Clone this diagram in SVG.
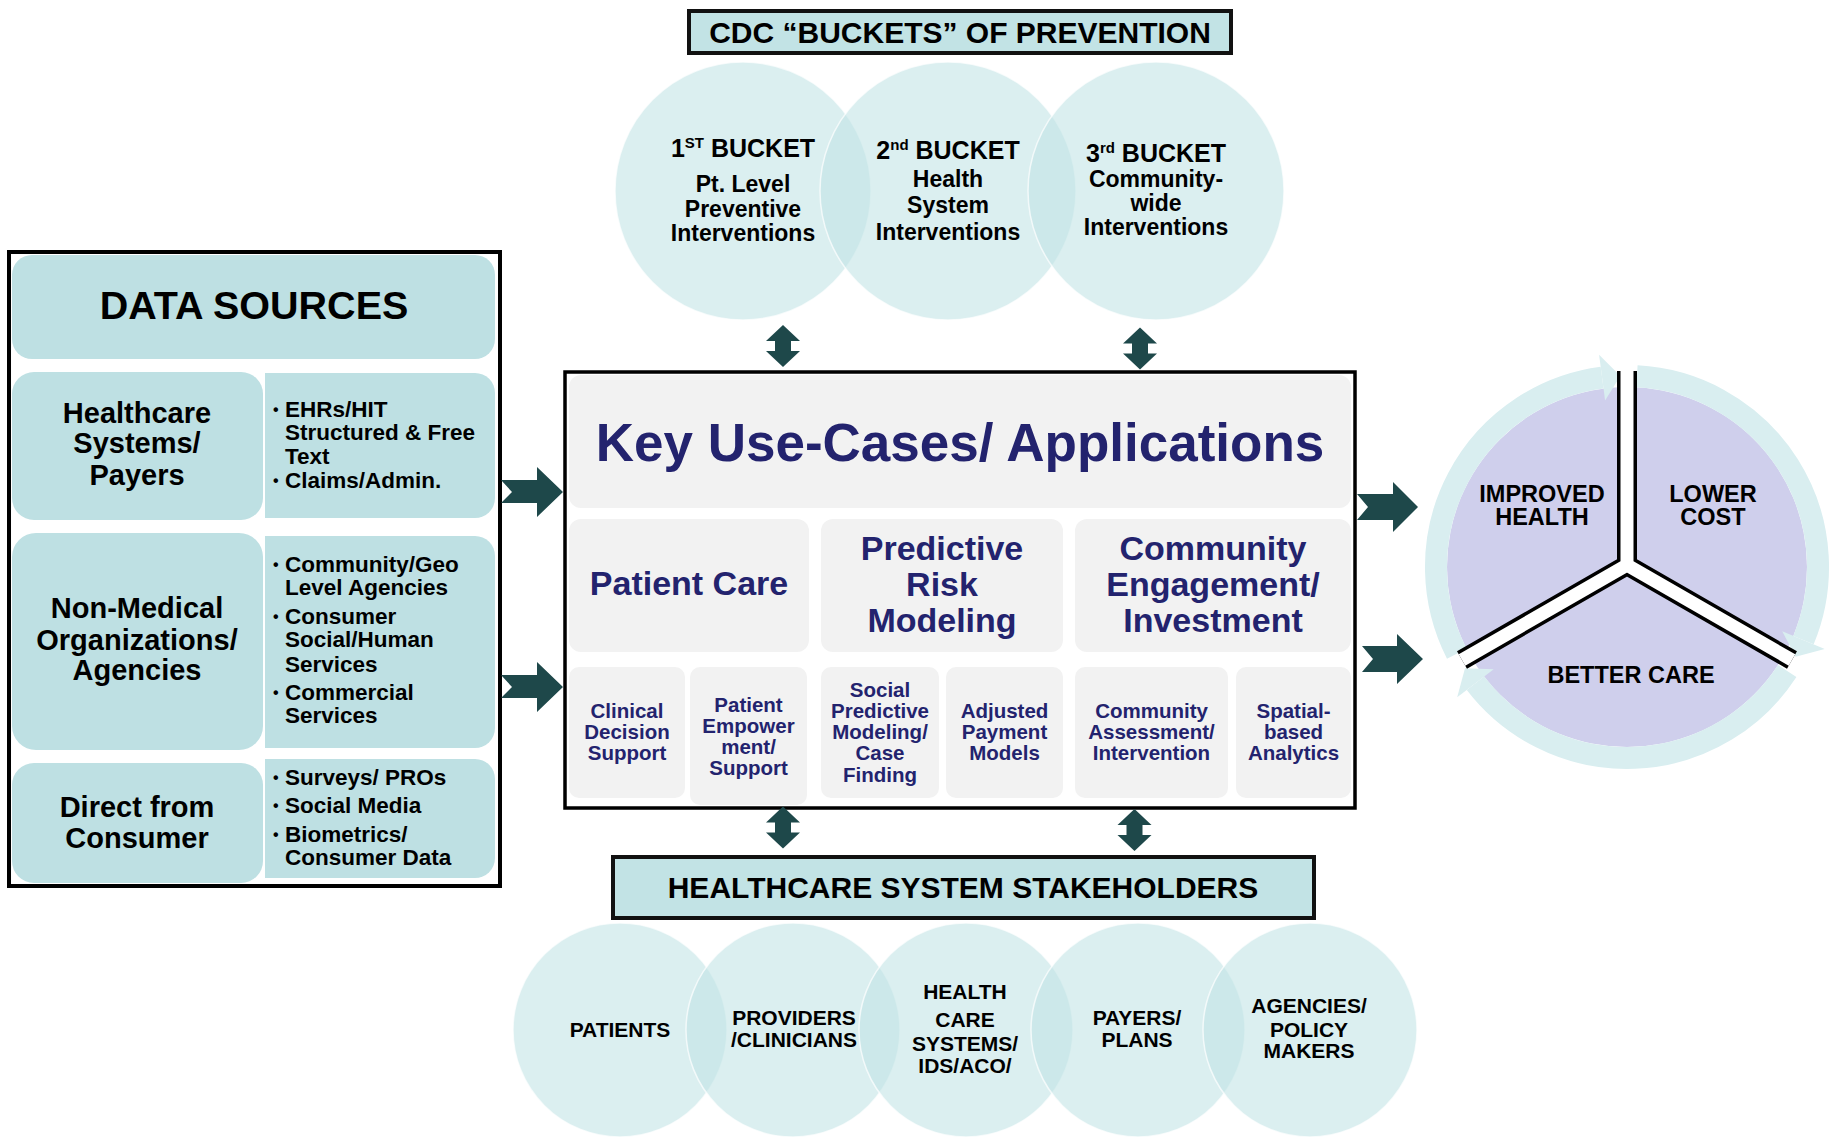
<svg xmlns="http://www.w3.org/2000/svg" width="1831" height="1139" viewBox="0 0 1831 1139">
<style>
text{font-family:"Liberation Sans",Arial,sans-serif;font-weight:bold}
.blk{fill:#000}
.nv{fill:#23236e}
.mid{text-anchor:middle}
.teal{fill:#bee0e3}
.grey{fill:#f2f2f2}
.bub{fill:#c1e3e5;fill-opacity:0.58;stroke:#ffffff;stroke-width:1.5;stroke-opacity:0.7}
.hdr{fill:#c2e3e5;stroke:#111;stroke-width:4}
.arr{fill:#1e484a}
.ring{fill:none;stroke:#d9eef0;stroke-width:22}
.rhead{fill:#d9eef0}
</style>
<rect width="1831" height="1139" fill="#ffffff"/>

<!-- DATA SOURCES -->
<g id="data-sources">
<rect x="9" y="252" width="491" height="634" fill="#ffffff" stroke="#000" stroke-width="4"/>
<rect x="12" y="255" width="483" height="104" rx="20" class="teal"/>
<text x="254" y="319" class="blk mid" font-size="39.5">DATA SOURCES</text>
</g>
<g id="ds-healthcare">
<rect x="12" y="372" width="251" height="148" rx="22" class="teal"/>
<path d="M265,373 H475 A20,20 0 0 1 495,393 V498 A20,20 0 0 1 475,518 H265 Z" class="teal"/>
<text class="blk mid" font-size="29"><tspan x="137" y="423">Healthcare</tspan><tspan x="137" y="453">Systems/</tspan><tspan x="137" y="485">Payers</tspan></text>
<text class="blk" font-size="22.5"><tspan x="285" y="417">EHRs/HIT</tspan><tspan x="285" y="440">Structured &amp; Free</tspan><tspan x="285" y="464">Text</tspan><tspan x="285" y="488">Claims/Admin.</tspan></text>
<text class="blk" font-size="16"><tspan x="273" y="415">•</tspan><tspan x="273" y="486">•</tspan></text>
</g>
<g id="ds-nonmedical">
<rect x="12" y="533" width="251" height="217" rx="24" class="teal"/>
<path d="M265,536 H475 A20,20 0 0 1 495,556 V728 A20,20 0 0 1 475,748 H265 Z" class="teal"/>
<text class="blk mid" font-size="29"><tspan x="137" y="618">Non-Medical</tspan><tspan x="137" y="650">Organizations/</tspan><tspan x="137" y="680">Agencies</tspan></text>
<text class="blk" font-size="22.5"><tspan x="285" y="572">Community/Geo</tspan><tspan x="285" y="595">Level Agencies</tspan><tspan x="285" y="624">Consumer</tspan><tspan x="285" y="647">Social/Human</tspan><tspan x="285" y="672">Services</tspan><tspan x="285" y="700">Commercial</tspan><tspan x="285" y="723">Services</tspan></text>
<text class="blk" font-size="16"><tspan x="273" y="570">•</tspan><tspan x="273" y="622">•</tspan><tspan x="273" y="698">•</tspan></text>
</g>
<g id="ds-consumer">
<rect x="12" y="763" width="251" height="120" rx="22" class="teal"/>
<path d="M265,759 H475 A20,20 0 0 1 495,779 V858 A20,20 0 0 1 475,878 H265 Z" class="teal"/>
<text class="blk mid" font-size="29"><tspan x="137" y="817">Direct from</tspan><tspan x="137" y="848">Consumer</tspan></text>
<text class="blk" font-size="22.5"><tspan x="285" y="785">Surveys/ PROs</tspan><tspan x="285" y="813">Social Media</tspan><tspan x="285" y="842">Biometrics/</tspan><tspan x="285" y="865">Consumer Data</tspan></text>
<text class="blk" font-size="16"><tspan x="273" y="783">•</tspan><tspan x="273" y="811">•</tspan><tspan x="273" y="840">•</tspan></text>
</g>

<!-- CDC BUCKETS -->
<g id="cdc-header">
<rect x="689" y="11" width="542" height="42" class="hdr"/>
<text x="960" y="43" class="blk mid" font-size="30">CDC “BUCKETS” OF PREVENTION</text>
</g>
<g id="bucket-1">
<ellipse cx="743" cy="191" rx="128" ry="129" class="bub"/>
</g>
<g id="bucket-2">
<ellipse cx="948" cy="191" rx="128" ry="129" class="bub"/>
</g>
<g id="bucket-3">
<ellipse cx="1156" cy="191" rx="128" ry="129" class="bub"/>
</g>
<g id="bucket-texts">
<text x="743" y="157" class="blk mid" font-size="25">1<tspan font-size="15" dy="-9">ST</tspan><tspan dy="9"> BUCKET</tspan></text>
<text class="blk mid" font-size="23"><tspan x="743" y="192">Pt. Level</tspan><tspan x="743" y="217">Preventive</tspan><tspan x="743" y="241">Interventions</tspan></text>
<text x="948" y="159" class="blk mid" font-size="25">2<tspan font-size="15" dy="-9">nd</tspan><tspan dy="9"> BUCKET</tspan></text>
<text class="blk mid" font-size="23"><tspan x="948" y="187">Health</tspan><tspan x="948" y="213">System</tspan><tspan x="948" y="240">Interventions</tspan></text>
<text x="1156" y="162" class="blk mid" font-size="25">3<tspan font-size="15" dy="-9">rd</tspan><tspan dy="9"> BUCKET</tspan></text>
<text class="blk mid" font-size="23"><tspan x="1156" y="187">Community-</tspan><tspan x="1156" y="211">wide</tspan><tspan x="1156" y="235">Interventions</tspan></text>
</g>

<!-- KEY USE CASES -->
<g id="key-use-cases">
<rect x="565" y="372" width="790" height="436" fill="#ffffff" stroke="#000" stroke-width="3.5"/>
<rect x="569" y="375" width="782" height="133" rx="12" class="grey"/>
<text x="960" y="461" class="nv mid" font-size="53">Key Use-Cases/ Applications</text>
</g>
<g id="patient-care">
<rect x="569" y="519" width="240" height="133" rx="12" class="grey"/>
<text x="689" y="595" class="nv mid" font-size="34">Patient Care</text>
</g>
<g id="predictive-risk">
<rect x="821" y="519" width="242" height="133" rx="12" class="grey"/>
<text class="nv mid" font-size="34"><tspan x="942" y="560">Predictive</tspan><tspan x="942" y="596">Risk</tspan><tspan x="942" y="632">Modeling</tspan></text>
</g>
<g id="community-engagement">
<rect x="1075" y="519" width="276" height="133" rx="12" class="grey"/>
<text class="nv mid" font-size="34"><tspan x="1213" y="560">Community</tspan><tspan x="1213" y="596">Engagement/</tspan><tspan x="1213" y="632">Investment</tspan></text>
</g>
<g id="clinical-decision">
<rect x="569" y="667" width="116" height="131" rx="10" class="grey"/>
<text class="nv mid" font-size="20.5"><tspan x="627" y="718">Clinical</tspan><tspan x="627" y="739">Decision</tspan><tspan x="627" y="760">Support</tspan></text>
</g>
<g id="patient-empowerment">
<rect x="690" y="667" width="117" height="138" rx="10" class="grey"/>
<text class="nv mid" font-size="20.5"><tspan x="748.5" y="712">Patient</tspan><tspan x="748.5" y="733">Empower</tspan><tspan x="748.5" y="754">ment/</tspan><tspan x="748.5" y="775">Support</tspan></text>
</g>
<g id="social-predictive">
<rect x="821" y="667" width="118" height="131" rx="10" class="grey"/>
<text class="nv mid" font-size="20.5"><tspan x="880" y="697">Social</tspan><tspan x="880" y="718">Predictive</tspan><tspan x="880" y="739">Modeling/</tspan><tspan x="880" y="760">Case</tspan><tspan x="880" y="782">Finding</tspan></text>
</g>
<g id="adjusted-payment">
<rect x="946" y="667" width="117" height="131" rx="10" class="grey"/>
<text class="nv mid" font-size="20.5"><tspan x="1004.5" y="718">Adjusted</tspan><tspan x="1004.5" y="739">Payment</tspan><tspan x="1004.5" y="760">Models</tspan></text>
</g>
<g id="community-assessment">
<rect x="1075" y="667" width="153" height="131" rx="10" class="grey"/>
<text class="nv mid" font-size="20.5"><tspan x="1151.5" y="718">Community</tspan><tspan x="1151.5" y="739">Assessment/</tspan><tspan x="1151.5" y="760">Intervention</tspan></text>
</g>
<g id="spatial-analytics">
<rect x="1236" y="667" width="115" height="131" rx="10" class="grey"/>
<text class="nv mid" font-size="20.5"><tspan x="1293.5" y="718">Spatial-</tspan><tspan x="1293.5" y="739">based</tspan><tspan x="1293.5" y="760">Analytics</tspan></text>
</g>

<!-- STAKEHOLDERS -->
<g id="stakeholders-header">
<rect x="613" y="857" width="701" height="61" class="hdr"/>
<text x="963" y="898" class="blk mid" font-size="30">HEALTHCARE SYSTEM STAKEHOLDERS</text>
</g>
<g id="sh-patients"><ellipse cx="620" cy="1030" rx="107" ry="107" class="bub"/></g>
<g id="sh-providers"><ellipse cx="793" cy="1030" rx="107" ry="107" class="bub"/></g>
<g id="sh-systems"><ellipse cx="966" cy="1030" rx="107" ry="107" class="bub"/></g>
<g id="sh-payers"><ellipse cx="1138" cy="1030" rx="107" ry="107" class="bub"/></g>
<g id="sh-agencies"><ellipse cx="1310" cy="1030" rx="107" ry="107" class="bub"/></g>
<g id="stakeholder-texts">
<text x="620" y="1037" class="blk mid" font-size="21">PATIENTS</text>
<text class="blk mid" font-size="21"><tspan x="794" y="1025">PROVIDERS</tspan><tspan x="794" y="1047">/CLINICIANS</tspan></text>
<text class="blk mid" font-size="21"><tspan x="965" y="999">HEALTH</tspan><tspan x="965" y="1027">CARE</tspan><tspan x="965" y="1051">SYSTEMS/</tspan><tspan x="965" y="1073">IDS/ACO/</tspan></text>
<text class="blk mid" font-size="21"><tspan x="1137" y="1025">PAYERS/</tspan><tspan x="1137" y="1047">PLANS</tspan></text>
<text class="blk mid" font-size="21"><tspan x="1309" y="1013">AGENCIES/</tspan><tspan x="1309" y="1037">POLICY</tspan><tspan x="1309" y="1058">MAKERS</tspan></text>
</g>

<!-- TRIPLE AIM CYCLE -->
<g id="triple-aim">
<circle cx="1627" cy="567" r="180" fill="#cfcfec"/>
<path d="M1637.0,376.3 A191,191 0 0 1 1803.5,640.1" class="ring"/>
<polygon points="1782.2,631.3 1824.7,648.9 1795.6,656.7" class="rhead"/>
<path d="M1787.2,671.0 A191,191 0 0 1 1475.5,683.3" class="ring"/>
<polygon points="1493.7,669.3 1457.2,697.3 1465.0,668.2" class="rhead"/>
<path d="M1456.8,653.7 A191,191 0 0 1 1602.1,377.6" class="ring"/>
<polygon points="1605.1,400.4 1599.1,354.8 1620.3,376.1" class="rhead"/>
<path d="M1627,371 L1627,565 M1462,660 L1627,565 L1792,660" fill="none" stroke="#000" stroke-width="20" stroke-linejoin="miter"/>
<path d="M1627,371 L1627,565 M1462,660 L1627,565 L1792,660" fill="none" stroke="#fff" stroke-width="13" stroke-linejoin="miter"/>
<text class="blk mid" font-size="23.5"><tspan x="1542" y="502">IMPROVED</tspan><tspan x="1542" y="525">HEALTH</tspan></text>
<text class="blk mid" font-size="23.5"><tspan x="1713" y="502">LOWER</tspan><tspan x="1713" y="525">COST</tspan></text>
<text x="1631" y="683" class="blk mid" font-size="23.5">BETTER CARE</text>
</g>

<!-- CONNECTORS -->
<g id="connectors">
<polygon points="501,480 537,480 537,467 563,492 537,517 537,503 501,503 512,492" class="arr"/>
<polygon points="501,675 537,675 537,662 563,687 537,712 537,698 501,698 512,687" class="arr"/>
<polygon points="1357,494 1393,494 1393,482 1418,507 1393,532 1393,520 1357,520 1368,507" class="arr"/>
<polygon points="1362,646 1397,646 1397,634 1423,659 1397,684 1397,672 1362,672 1373,659" class="arr"/>
<polygon transform="translate(783,346)" points="0,-21 17,-5 8,-5 8,5 17,5 0,21 -17,5 -8,5 -8,-5 -17,-5" class="arr"/>
<polygon transform="translate(1140,348.5)" points="0,-21 17,-5 8,-5 8,5 17,5 0,21 -17,5 -8,5 -8,-5 -17,-5" class="arr"/>
<polygon transform="translate(783,827.5)" points="0,-21 17,-5 8,-5 8,5 17,5 0,21 -17,5 -8,5 -8,-5 -17,-5" class="arr"/>
<polygon transform="translate(1134.5,830)" points="0,-21 17,-5 8,-5 8,5 17,5 0,21 -17,5 -8,5 -8,-5 -17,-5" class="arr"/>
</g>
</svg>
